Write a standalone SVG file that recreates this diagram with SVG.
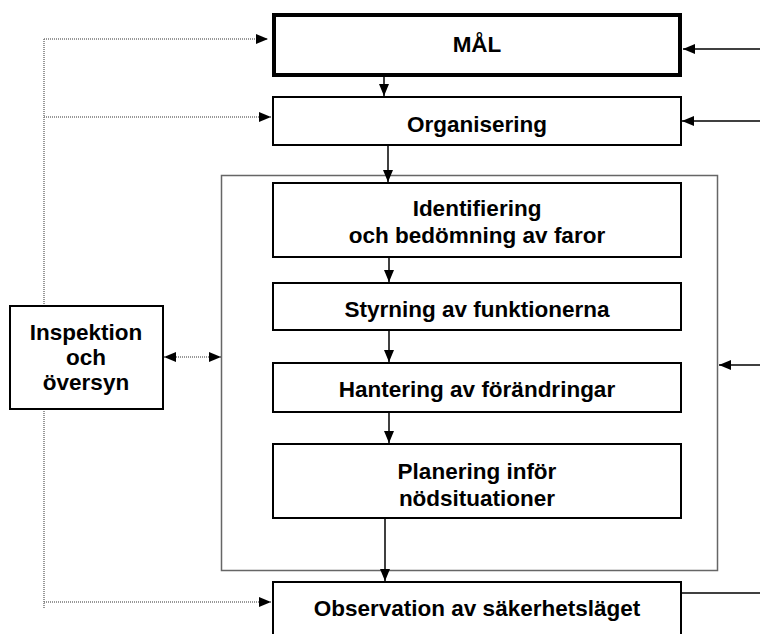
<svg xmlns="http://www.w3.org/2000/svg" width="760" height="634" viewBox="0 0 760 634">
<style>
.node{fill:#fff;stroke:#000;stroke-width:2}
.thick{fill:#fff;stroke:#000;stroke-width:4}
.cont{fill:none;stroke:#666;stroke-width:1.5}
.solid{stroke:#000;stroke-width:1.5;fill:none}
.dot{stroke:#777;stroke-width:1.5;stroke-dasharray:1 1;fill:none}
text{font-family:"Liberation Sans",Arial,sans-serif;font-weight:bold;font-size:22.5px;fill:#000;text-anchor:middle}
</style>
<defs>
<marker id="ah" markerUnits="userSpaceOnUse" markerWidth="13" markerHeight="11" refX="12" refY="5" orient="auto">
<path d="M0,0 L12,5 L0,10 z" fill="#000"/>
</marker>
<marker id="as" markerUnits="userSpaceOnUse" markerWidth="13" markerHeight="11" refX="12" refY="5" orient="auto-start-reverse">
<path d="M0,0 L12,5 L0,10 z" fill="#000"/>
</marker>
</defs>
<g id="container"><rect class="cont" x="221.5" y="175.5" width="496" height="395"/></g>
<g id="connectors">
<path class="dot" d="M44,39 V608"/>
<path class="dot" d="M44,39 H268" marker-end="url(#ah)"/>
<path class="dot" d="M44,117 H271" marker-end="url(#ah)"/>
<path class="dot" d="M44,602 H271" marker-end="url(#ah)"/>
<path class="dot" d="M164,357 H221" marker-start="url(#as)" marker-end="url(#as)"/>
<path class="solid" d="M760,49 H683" marker-end="url(#ah)"/>
<path class="solid" d="M760,121 H682" marker-end="url(#ah)"/>
<path class="solid" d="M760,365 H719" marker-end="url(#ah)"/>
<path class="solid" d="M681,593 H760"/>
<path class="solid" d="M384,77 V96" marker-end="url(#ah)"/>
<path class="solid" d="M388,145 V182" marker-end="url(#ah)"/>
<path class="solid" d="M389,257 V282" marker-end="url(#ah)"/>
<path class="solid" d="M389,330 V362" marker-end="url(#ah)"/>
<path class="solid" d="M389,412 V443" marker-end="url(#ah)"/>
<path class="solid" d="M385,518 V581" marker-end="url(#ah)"/>
</g>
<g id="mal"><rect class="thick" x="274" y="15" width="406" height="60"/><text x="477" y="52">MÅL</text></g>
<g id="organisering"><rect class="node" x="273" y="97" width="408" height="48"/><text x="477" y="132">Organisering</text></g>
<g id="identifiering"><rect class="node" x="273" y="183" width="408" height="74"/><text x="477" y="216">Identifiering</text><text x="477" y="243">och bedömning av faror</text></g>
<g id="styrning"><rect class="node" x="273" y="283" width="408" height="47"/><text x="477" y="317">Styrning av funktionerna</text></g>
<g id="hantering"><rect class="node" x="273" y="363" width="408" height="49"/><text x="477" y="397">Hantering av förändringar</text></g>
<g id="planering"><rect class="node" x="273" y="444" width="408" height="74"/><text x="477" y="479">Planering inför</text><text x="477" y="506">nödsituationer</text></g>
<g id="observation"><rect class="node" x="273" y="582" width="408" height="60"/><text x="477" y="616">Observation av säkerhetsläget</text></g>
<g id="inspektion"><rect class="node" x="10" y="306" width="153" height="103"/><text x="86" y="340">Inspektion</text><text x="86" y="365">och</text><text x="86" y="390">översyn</text></g>
</svg>
